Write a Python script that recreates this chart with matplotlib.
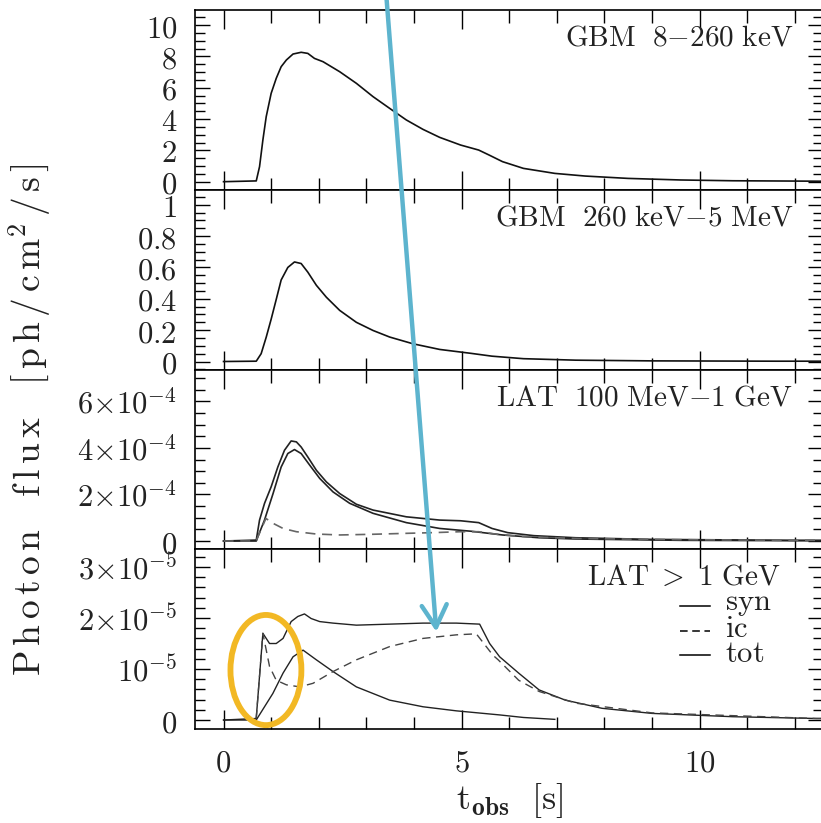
import numpy as np
import matplotlib
matplotlib.use("Agg")
import matplotlib.pyplot as plt
from matplotlib.ticker import FixedLocator, FixedFormatter, MultipleLocator
from matplotlib.patches import Ellipse

plt.rcParams['mathtext.fontset'] = 'cm'
plt.rcParams['font.family'] = ['DejaVu Serif']

# ---- data ----
# GBM 8-260 keV
t_gbm1 = [0, 0.687, 0.756, 0.826, 0.896, 1.0, 1.107, 1.21, 1.32, 1.46, 1.63, 1.77, 1.91,
          2.09, 2.44, 2.79, 3.14, 3.49, 3.84, 4.19, 4.54, 4.98, 5.36, 5.58, 5.86, 6.30,
          6.96, 7.6, 8.5, 9.6, 10.7, 12.0, 12.6]
f_gbm1 = [0, 0.05, 0.96, 2.66, 4.15, 5.64, 6.6, 7.34, 7.77, 8.15, 8.26, 8.19, 7.87,
          7.66, 7.02, 6.28, 5.43, 4.68, 3.94, 3.34, 2.83, 2.34, 2.02, 1.7, 1.28, 0.85,
          0.53, 0.36, 0.21, 0.11, 0.06, 0.04, 0.03]

# GBM 260 keV - 5 MeV
t_gbm2 = [0, 0.687, 0.79, 0.896, 1.0, 1.11, 1.21, 1.35, 1.49, 1.63, 1.77, 1.95, 2.16,
          2.44, 2.79, 3.14, 3.49, 3.98, 4.54, 5.2, 5.64, 6.3, 7.4, 9.0, 11.6, 12.6]
f_gbm2 = [0, 0.002, 0.05, 0.155, 0.27, 0.40, 0.52, 0.60, 0.635, 0.625, 0.57, 0.486,
          0.41, 0.326, 0.25, 0.198, 0.156, 0.113, 0.077, 0.052, 0.034, 0.018, 0.0085,
          0.004, 0.002, 0.002]

# LAT 100 MeV - 1 GeV (units of 1e-4)
t_lat1_tot = [0, 0.687, 0.756, 0.861, 1.0, 1.14, 1.28, 1.42, 1.53, 1.63, 1.77, 1.95,
              2.16, 2.44, 2.79, 3.14, 3.84, 4.54, 4.98, 5.36, 5.64, 5.97, 6.52, 7.4,
              9.0, 12.0, 12.6]
f_lat1_tot = [0, 0.04, 0.9, 1.62, 2.33, 3.18, 3.9, 4.3, 4.26, 4.04, 3.61, 3.04,
              2.54, 2.04, 1.58, 1.33, 1.04, 0.9, 0.87, 0.79, 0.54, 0.36, 0.23, 0.14,
              0.07, 0.03, 0.03]
t_lat1_syn = [0, 0.687, 0.72, 0.86, 1.04, 1.21, 1.35, 1.49, 1.63, 1.81, 2.02, 2.30,
              2.65, 3.14, 3.84, 4.54, 5.2, 5.86, 6.63, 7.4, 9.6, 12.0, 12.6]
f_lat1_syn = [0, 0, 0.18, 0.9, 2.04, 3.18, 3.76, 3.93, 3.76, 3.26, 2.69, 2.11,
              1.62, 1.19, 0.79, 0.54, 0.42, 0.26, 0.14, 0.086, 0.03, 0.014, 0.014]
t_lat1_ic = [0, 0.687, 0.72, 0.89, 1.04, 1.25, 1.53, 1.95, 2.44, 3.14, 3.84, 4.40,
             4.98, 5.36, 5.75, 6.3, 7.4, 9.6, 12.0, 12.6]
f_lat1_ic = [0, 0, 0.18, 0.97, 0.76, 0.54, 0.4, 0.3, 0.26, 0.29, 0.33, 0.36,
             0.4, 0.4, 0.29, 0.19, 0.11, 0.057, 0.03, 0.03]

# LAT > 1 GeV (units of 1e-5)
t_lat2_tot = [0, 0.686, 0.826, 0.966, 1.106, 1.25, 1.42, 1.56, 1.70, 1.84, 2.02, 2.30,
              2.79, 3.49, 4.19, 4.89, 5.38, 5.59, 5.80, 6.2, 6.63, 7.18, 7.95, 9.0,
              10.7, 12.45, 12.6]
f_lat2_tot = [0, 0.03, 1.70, 1.50, 1.50, 1.60, 1.93, 2.03, 2.08, 1.99, 1.93, 1.90,
              1.86, 1.88, 1.90, 1.90, 1.88, 1.50, 1.24, 0.92, 0.59, 0.39, 0.23, 0.13,
              0.065, 0.03, 0.03]
t_lat2_syn = [0, 0.686, 1.035, 1.25, 1.46, 1.67, 1.95, 2.30, 2.79, 3.49, 4.19, 4.89,
              5.80, 6.3, 6.96]
f_lat2_syn = [0, 0, 0.52, 0.92, 1.24, 1.37, 1.18, 0.95, 0.65, 0.39, 0.26, 0.18,
              0.1, 0.05, 0.013]
t_lat2_ic = [0.686, 0.826, 0.966, 1.106, 1.32, 1.60, 1.88, 2.30, 2.79, 3.49, 4.19,
             4.89, 5.31, 5.66, 5.77, 6.2, 6.63, 7.4, 9.0, 12.45, 12.6]
f_lat2_ic = [0.03, 1.7, 1.05, 0.78, 0.69, 0.65, 0.72, 0.95, 1.18, 1.44, 1.60,
             1.67, 1.69, 1.27, 1.18, 0.78, 0.56, 0.33, 0.14, 0.03, 0.03]

panel_titles = [r'$\mathrm{GBM\ \ 8{-}260\ keV}$',
                r'$\mathrm{GBM\ \ 260\ keV{-}5\ MeV}$',
                r'$\mathrm{LAT\ \ 100\ MeV{-}1\ GeV}$',
                r'$\mathrm{LAT\ >\ 1\ GeV}$']
legend_names = ['syn', 'ic', 'tot']

yticks_1 = [0, 2, 4, 6, 8, 10]
ylabels_1 = [r'$0$', r'$2$', r'$4$', r'$6$', r'$8$', r'$10$']
yticks_2 = [0, 0.2, 0.4, 0.6, 0.8, 1.0]
ylabels_2 = [r'$0$', r'$0.2$', r'$0.4$', r'$0.6$', r'$0.8$', r'$1$']
yticks_3 = [0, 2e-4, 4e-4, 6e-4]
ylabels_3 = [r'$0$', r'$2{\times}10^{-4}$', r'$4{\times}10^{-4}$', r'$6{\times}10^{-4}$']
yticks_4 = [0, 1e-5, 2e-5, 3e-5]
ylabels_4 = [r'$0$', r'$10^{-5}$', r'$2{\times}10^{-5}$', r'$3{\times}10^{-5}$']
xticks = [0, 5, 10]
xlabels = [r'$0$', r'$5$', r'$10$']

# ---- figure ----
fig = plt.figure(figsize=(8.21, 8.23), dpi=100)
W, H = 821.0, 823.0
left, right = 195 / W, 823.3 / W
edges = [10, 190, 369.5, 549, 729]

axes = []
for i in range(4):
    top = 1 - edges[i] / H
    bot = 1 - edges[i + 1] / H
    ax = fig.add_axes([left, bot, right - left, top - bot])
    axes.append(ax)

ylims = [(-0.53, 10.96), (-0.051, 1.094), (-0.343e-4, 7.37e-4), (-0.176e-5, 3.353e-5)]
yt = [(yticks_1, ylabels_1, 0.5), (yticks_2, ylabels_2, 0.05),
      (yticks_3, ylabels_3, 0.5e-4), (yticks_4, ylabels_4, 0.2e-5)]

for i, ax in enumerate(axes):
    ax.set_xlim(-0.6, 12.6)
    ax.set_ylim(*ylims[i])
    ax.xaxis.set_major_locator(FixedLocator(xticks))
    ax.xaxis.set_minor_locator(MultipleLocator(1))
    ax.yaxis.set_major_locator(FixedLocator(yt[i][0]))
    ax.yaxis.set_major_formatter(FixedFormatter(yt[i][1]))
    ax.yaxis.set_minor_locator(MultipleLocator(yt[i][2]))
    ax.tick_params(which='both', direction='in', top=True, right=True, width=1.0,
                   labelsize=22, labelcolor='#222222')
    ax.tick_params(axis='x', which='major', length=14)
    ax.tick_params(axis='x', which='minor', length=9)
    ax.tick_params(axis='y', which='major', length=11, pad=13)
    ax.tick_params(axis='y', which='minor', length=7)
    if i < 3:
        ax.tick_params(axis='x', labelbottom=False)
    else:
        ax.xaxis.set_major_formatter(FixedFormatter(xlabels))
        ax.tick_params(axis='x', pad=13)
    for s in ax.spines.values():
        s.set_linewidth(1.2)
    ax.text(0.952 if i < 3 else 0.931, 0.845, panel_titles[i], transform=ax.transAxes,
            ha='right', va='center', fontsize=21, color='#222222')

lw = 1.2
axes[0].plot(t_gbm1, f_gbm1, color='#111111', lw=lw)
axes[1].plot(t_gbm2, f_gbm2, color='#111111', lw=lw)

axes[2].plot(t_lat1_tot, np.array(f_lat1_tot) * 1e-4, color='#222222', lw=lw)
axes[2].plot(t_lat1_syn, np.array(f_lat1_syn) * 1e-4, color='#222222', lw=lw)
axes[2].plot(t_lat1_ic, np.array(f_lat1_ic) * 1e-4, color='#666666', lw=lw, dashes=(6, 4))

ax4 = axes[3]
ax4.plot(t_lat2_tot, np.array(f_lat2_tot) * 1e-5, color='#222222', lw=1.0)
ax4.plot(t_lat2_syn, np.array(f_lat2_syn) * 1e-5, color='#222222', lw=1.0)
ax4.plot(t_lat2_ic, np.array(f_lat2_ic) * 1e-5, color='#444444', lw=1.0, dashes=(6, 4))

# legend drawn by hand, like the original: short line samples + one text block
leg_y = [0.685, 0.545, 0.41]
leg_dash = [None, (5, 3), None]
for yy, d in zip(leg_y, leg_dash):
    ln, = ax4.plot([0.772, 0.82], [yy, yy], color='k', lw=1.1, transform=ax4.transAxes)
    if d:
        ln.set_dashes(d)
leg_text = '\n'.join(r'$\mathrm{%s}$' % n for n in legend_names)
ax4.text(0.843, 0.56, leg_text, transform=ax4.transAxes, ha='left', va='center',
         fontsize=22, color='#222222', linespacing=0.78)

# overlay highlights
ell = Ellipse((0.89, 0.98e-5), 1.49, 2.16e-5, fill=False, edgecolor='#F2B824',
              lw=4.2, clip_on=False, zorder=10)
ax4.add_patch(ell)
ax4.annotate('', xy=(4.47, 1.73e-5), xycoords='data',
             xytext=(386 / W, 1.01), textcoords='figure fraction',
             arrowprops=dict(arrowstyle='->,head_length=0.8,head_width=0.45',
                             color='#5DB4CE', lw=3.2, mutation_scale=20,
                             shrinkA=0, shrinkB=0),
             annotation_clip=False, zorder=11)

ylab = r'$\mathrm{P\,h\,o\,t\,o\,n\ \ \ f\,l\,u\,x\ \ \ [\,p\,h\,/\,c\,m^{2}\,/\,s\,]}$'
fig.text(30 / W, 0.49, ylab, rotation=90, ha='center', va='center', fontsize=27,
         color='#222222')
fig.text(510 / W, 1 - 800 / H, r'$\mathrm{t}_{\mathbf{obs}}\ \ [\mathrm{s}]$',
         ha='center', va='center', fontsize=26, color='#222222')

fig.savefig('out.png', dpi=100)
